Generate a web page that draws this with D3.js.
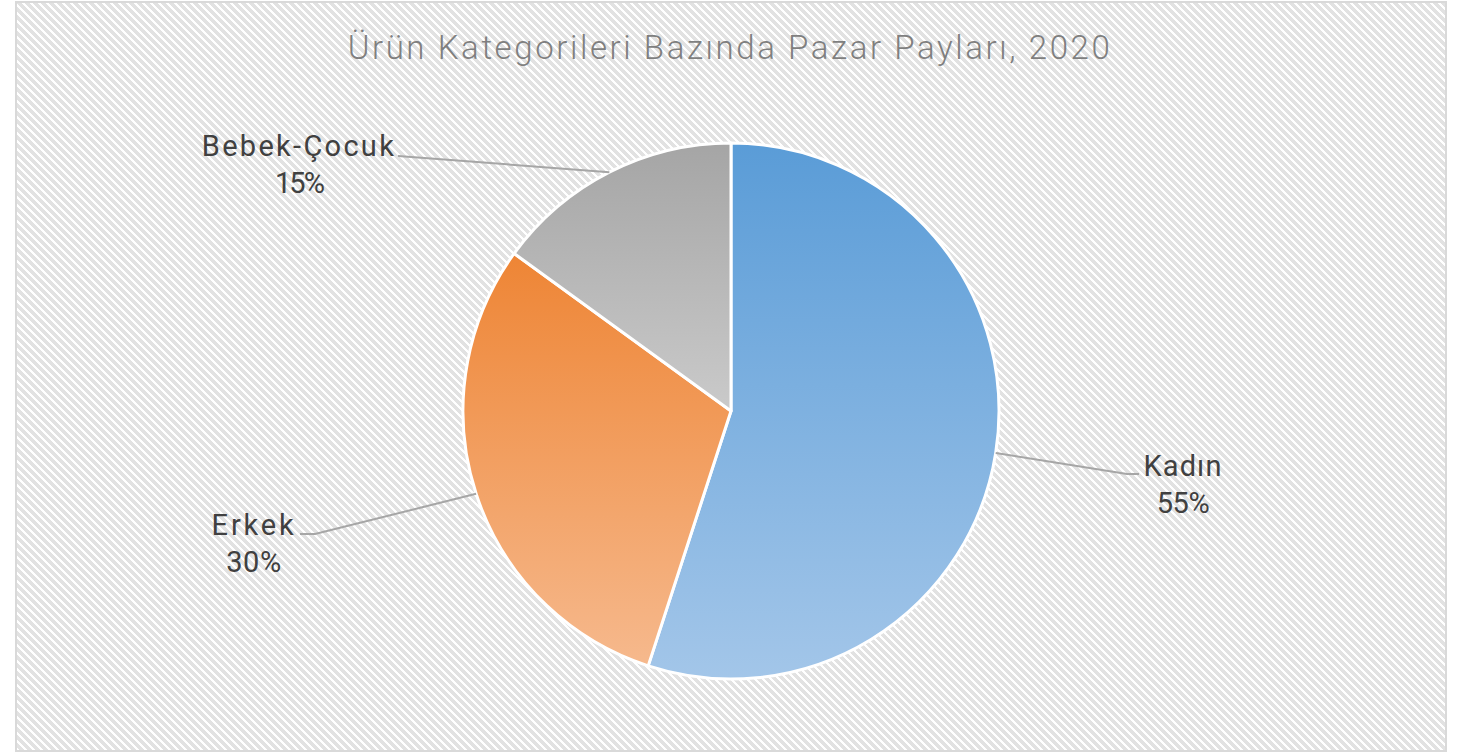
<!DOCTYPE html>
<html>
<head>
<meta charset="utf-8">
<script src="https://cdn.jsdelivr.net/npm/d3@7"></script>
<style>
  html, body { margin: 0; padding: 0; background: #ffffff; }
  svg { display: block; }
</style>
</head>
<body>
<script>
// Market share by product category, 2020
const categories = ["Kadın", "Erkek", "Bebek-Çocuk"];
const shares = [55, 30, 15];
const titleText = "Ürün Kategorileri Bazında Pazar Payları, 2020";

// slice gradient stops (top → bottom)
const topColors = ["#5a9cd7", "#ee8535", "#a5a5a5"];
const bottomColors = ["#a3c6e9", "#f6b98d", "#cacaca"];

const W = 1460, H = 753;
const cx = 731, cy = 411, R = 268;
const FONT = "Roboto, 'Noto Sans', sans-serif";

const svg = d3.select("body").append("svg")
  .attr("width", W).attr("height", H);

const defs = svg.append("defs");

// diagonal hatch for the chart area
const pat = defs.append("pattern")
  .attr("id", "hatch")
  .attr("patternUnits", "userSpaceOnUse")
  .attr("width", 8).attr("height", 8);
pat.append("rect").attr("width", 8).attr("height", 8).attr("fill", "#ffffff");
pat.append("path")
  .attr("d", "M-4,4 L4,12 M0,0 L8,8 M4,-4 L12,4")
  .attr("stroke", "#e2e2e2")
  .attr("stroke-width", 2.9)
  .attr("shape-rendering", "crispEdges");

categories.forEach((c, i) => {
  const g = defs.append("linearGradient")
    .attr("id", "grad" + i)
    .attr("x1", 0).attr("y1", 0).attr("x2", 0).attr("y2", 1);
  g.append("stop").attr("offset", "0%").attr("stop-color", topColors[i]);
  g.append("stop").attr("offset", "100%").attr("stop-color", bottomColors[i]);
});

// spread glyphs so a text run fills a given width
function fitWidth(sel, width) {
  const node = sel.node();
  const n = node.textContent.length;
  const w = node.getComputedTextLength();
  if (n > 1) sel.attr("letter-spacing", ((width - w) / (n - 1)).toFixed(2));
  return sel;
}

// chart frame
svg.append("rect")
  .attr("x", 16).attr("y", 2)
  .attr("width", 1430).attr("height", 749)
  .attr("fill", "url(#hatch)")
  .attr("stroke", "#d9d9d9")
  .attr("stroke-width", 2);

// title
const title = svg.append("text")
  .attr("x", 730).attr("y", 59)
  .attr("text-anchor", "middle")
  .attr("font-family", FONT)
  .attr("font-weight", 300)
  .attr("font-size", 33)
  .attr("fill", "#7f7f7f")
  .text(titleText);
fitWidth(title, 762);

const pie = d3.pie().sort(null).value(d => d)(shares);
const arc = d3.arc().innerRadius(0).outerRadius(R);

const g = svg.append("g").attr("transform", `translate(${cx},${cy})`);

g.selectAll("path.slice")
  .data(pie)
  .join("path")
  .attr("class", "slice")
  .attr("d", arc)
  .attr("fill", (d, i) => `url(#grad${i})`)
  .attr("stroke", "#ffffff")
  .attr("stroke-width", 3)
  .attr("stroke-linejoin", "round");

// label placement: text centre, leader elbow, and text widths
const labelLayout = [
  { tx: 1183, ty: 476, ex: 1127, ey: 474, hx: 1139, w1: 78, w2: 53 },
  { tx: 254,  ty: 535, ex: 315,  ey: 534, hx: 300,  w1: 82, w2: 55 },
  { tx: 299,  ty: 156, ex: 398,  ey: 156, hx: 398,  w1: 192, w2: 50 }
];

pie.forEach((d, i) => {
  const a = (d.startAngle + d.endAngle) / 2;
  const px = cx + R * Math.sin(a), py = cy - R * Math.cos(a);
  const L = labelLayout[i];
  svg.append("path")
    .attr("d", `M${px},${py} L${L.ex},${L.ey} L${L.hx},${L.ey}`)
    .attr("fill", "none")
    .attr("stroke", "#a6a6a6")
    .attr("stroke-width", 2);
  const lines = [categories[i], d.data + "%"];
  const widths = [L.w1, L.w2];
  lines.forEach((s, k) => {
    const t = svg.append("text")
      .attr("x", L.tx).attr("y", L.ty + k * 37)
      .attr("text-anchor", "middle")
      .attr("font-family", FONT)
      .attr("font-size", 29)
      .attr("fill", "#404040")
      .text(s);
    fitWidth(t, widths[k]);
  });
});
</script>
</body>
</html>
